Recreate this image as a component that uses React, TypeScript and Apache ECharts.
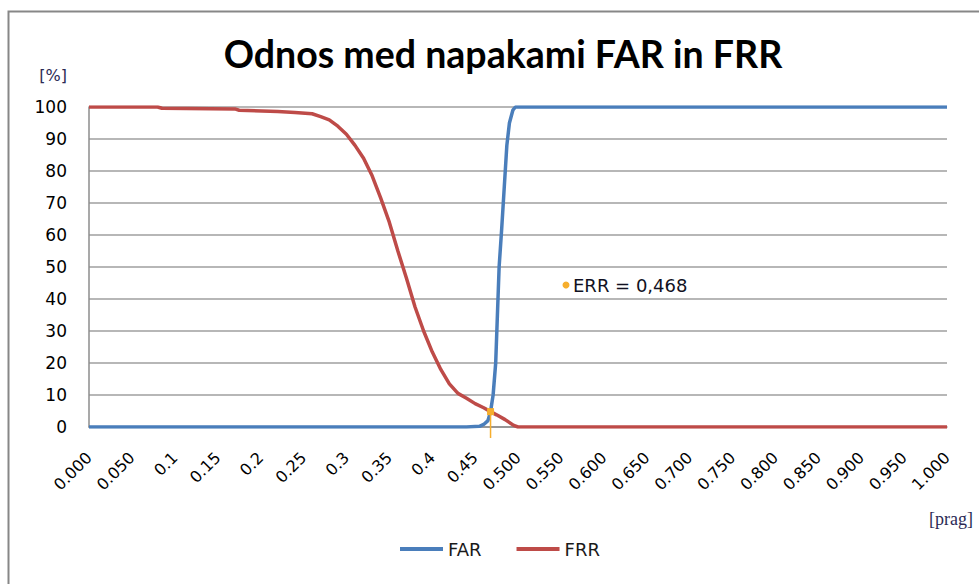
import React, { useEffect, useRef } from "react";
import * as echarts from "echarts";

const titleText = "Odnos med napakami FAR in FRR";
const yAxisName = "[%]";
const xAxisName = "[prag]";

const xTickLabels = [
  "0.000", "0.050", "0.1", "0.15", "0.2", "0.25", "0.3", "0.35", "0.4", "0.45",
  "0.500", "0.550", "0.600", "0.650", "0.700", "0.750", "0.800", "0.850", "0.900", "0.950", "1.000",
];

const farX = [0, 0.44, 0.455, 0.46, 0.465, 0.468, 0.471, 0.474, 0.476, 0.478, 0.481, 0.484, 0.487, 0.49, 0.494, 0.497, 1.0];
const farY = [0, 0, 0.2, 0.8, 2.0, 4.8, 10, 20, 35, 50, 62, 75, 88, 95, 99, 100, 100];

const frrX = [
  0, 0.08, 0.085, 0.17, 0.175, 0.22, 0.24, 0.26, 0.27, 0.28, 0.29, 0.3, 0.31, 0.32, 0.33, 0.34, 0.35,
  0.36, 0.37, 0.38, 0.39, 0.4, 0.41, 0.42, 0.43, 0.44, 0.45, 0.46, 0.468, 0.475, 0.485, 0.495, 0.5, 1.0,
];
const frrY = [
  100, 100, 99.6, 99.4, 99.0, 98.6, 98.3, 97.9, 97.0, 96.0, 94.0, 91.5, 88.0, 84.0, 78.5, 71.5, 64.0,
  55.0, 46.5, 37.5, 30.0, 23.5, 18.0, 13.5, 10.5, 9.0, 7.3, 6.0, 4.8, 3.8, 2.3, 0.5, 0, 0,
];

const errX = 0.468;
const errY = 4.8;

const BLUE = "#4a7ebb";
const RED = "#be4b48";
const ORANGE = "#f6ae2d";
const TITLE_FONT = "Lato";
const FONT = "DejaVu Sans";

export default function App() {
  const ref = useRef<HTMLDivElement>(null);

  useEffect(() => {
    document.body.style.margin = "0";
    if (!ref.current) return;
    const chart = echarts.init(ref.current, undefined, { renderer: "svg" });
    const errLabel = "ERR = " + errX.toFixed(3).replace(".", ",");

    chart.setOption({
      animation: false,
      backgroundColor: "#ffffff",
      title: {
        text: titleText,
        left: 498,
        top: 29,
        textAlign: "center",
        textStyle: { fontFamily: TITLE_FONT, fontWeight: "bold", fontSize: 37.5, color: "#000000" },
      },
      legend: {
        data: ["FAR", "FRR"],
        top: 535,
        left: 395,
        icon: "rect",
        itemWidth: 43,
        itemHeight: 4,
        itemGap: 35,
        textStyle: { fontFamily: FONT, fontSize: 18, color: "#1a1a1a" },
      },
      grid: { left: 89, right: 32, top: 107, bottom: 157, containLabel: false },
      xAxis: {
        type: "value",
        min: 0,
        max: 1,
        interval: 0.05,
        axisLine: { show: true, lineStyle: { color: "#8c8c8c", width: 1.5 } },
        axisTick: { show: false },
        splitLine: { show: false },
        axisLabel: {
          rotate: 45,
          margin: 28,
          fontFamily: FONT,
          fontSize: 16,
          color: "#000000",
          showMinLabel: true,
          showMaxLabel: true,
          formatter: (v: number) => xTickLabels[Math.round(v / 0.05)] ?? "",
        },
      },
      yAxis: {
        type: "value",
        min: 0,
        max: 100,
        interval: 10,
        axisLine: { show: true, lineStyle: { color: "#8c8c8c", width: 1.5 } },
        axisTick: { show: false },
        splitLine: { show: true, lineStyle: { color: "#9f9f9f", width: 1.5 } },
        axisLabel: { margin: 22, fontFamily: FONT, fontSize: 17, color: "#000000" },
      },
      series: [
        {
          name: "FAR",
          type: "line",
          data: farX.map((x, i) => [x, farY[i]]),
          showSymbol: false,
          lineStyle: { color: BLUE, width: 3.5 },
          itemStyle: { color: BLUE },
          z: 3,
        },
        {
          name: "FRR",
          type: "line",
          data: frrX.map((x, i) => [x, frrY[i]]),
          showSymbol: false,
          lineStyle: { color: RED, width: 3.5 },
          itemStyle: { color: RED },
          z: 4,
        },
        {
          name: "ERR",
          type: "custom",
          clip: false,
          z: 5,
          data: [[errX, errY]],
          renderItem: (params: any, api: any) => {
            const p = api.coord([api.value(0), api.value(1)]);
            const base = api.coord([api.value(0), 0]);
            return {
              type: "group",
              children: [
                {
                  type: "line",
                  shape: { x1: p[0], y1: p[1], x2: p[0], y2: base[1] + 11 },
                  style: { stroke: ORANGE, lineWidth: 1.5 },
                },
                {
                  type: "rect",
                  shape: { x: p[0] - 3.5, y: p[1] - 3.5, width: 7, height: 7 },
                  style: { fill: ORANGE },
                },
              ],
            };
          },
        },
      ],
      graphic: [
        {
          type: "rect",
          silent: true,
          shape: { x: 8.5, y: 11.5, width: 1200, height: 1200 },
          style: { fill: "none", stroke: "#878787", lineWidth: 2 },
        },
        {
          type: "text",
          x: 67,
          y: 75,
          style: { text: yAxisName, font: `16px "${FONT}"`, fill: "#2b2a55", textAlign: "right", textVerticalAlign: "middle" },
        },
        {
          type: "text",
          x: 973,
          y: 519,
          style: { text: xAxisName, font: `18px "Liberation Serif"`, fill: "#2b2a55", textAlign: "right", textVerticalAlign: "middle" },
        },
        {
          type: "circle",
          shape: { cx: 566, cy: 285, r: 3.5 },
          style: { fill: ORANGE },
        },
        {
          type: "text",
          x: 573,
          y: 285,
          style: { text: errLabel, font: `18px "${FONT}"`, fill: "#111122", textAlign: "left", textVerticalAlign: "middle" },
        },
      ],
    });

    return () => chart.dispose();
  }, []);

  return <div ref={ref} style={{ width: 979, height: 584 }} />;
}
